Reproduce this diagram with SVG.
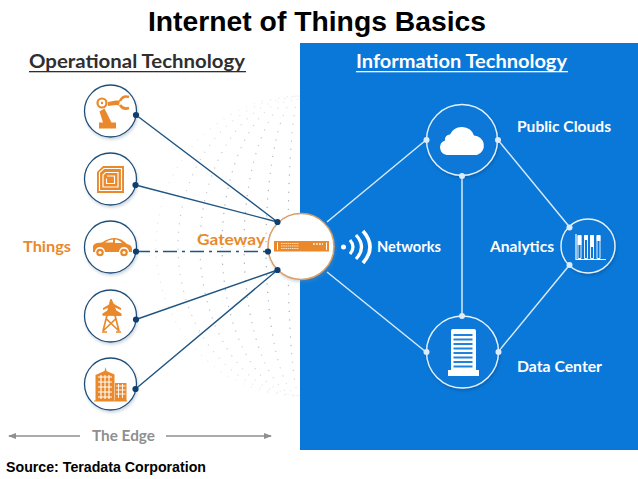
<svg xmlns="http://www.w3.org/2000/svg" width="638" height="479" viewBox="0 0 638 479">
<style>
.t{font-family:"Liberation Sans",Arial,sans-serif;font-weight:700;fill:#000}
.l{font-family:Lato,"Open Sans",sans-serif;font-weight:700;font-size:15px}
.o{fill:#e9892b}.w{fill:#fff}.g{fill:#8f8f8f}.d{fill:#2f2f2f}
.ring{fill:#fff;stroke:#1f4e79;stroke-width:1.3;filter:url(#sh)}
.wring{fill:#0a78d8;stroke:#e6f2fc;stroke-width:1.4;filter:url(#sh2)}
.nd{fill:#0f3f6f}.wd{fill:#dcecfa}
.ln{stroke:#1f5582;stroke-width:1.4;fill:none}
.wl{stroke:#d7e9f9;stroke-width:1.5;fill:none}
.globe{fill:none;stroke:#a4afb9;stroke-width:1.4;stroke-linecap:round;stroke-dasharray:0 8.5}
</style>
<defs>
<filter id="sh" x="-20%" y="-20%" width="140%" height="140%"><feDropShadow dx="1" dy="2" stdDeviation="1.5" flood-color="#6f8aa3" flood-opacity=".35"/></filter>
<filter id="sh2" x="-20%" y="-20%" width="140%" height="140%"><feDropShadow dx="1" dy="2" stdDeviation="1.5" flood-color="#04427d" flood-opacity=".4"/></filter>
<radialGradient id="fade" gradientUnits="userSpaceOnUse" cx="300" cy="246" r="160"><stop offset=".5" stop-color="#fff"/><stop offset=".8" stop-color="#fff" stop-opacity=".6"/><stop offset="1" stop-color="#fff" stop-opacity="0"/></radialGradient>
<mask id="gm"><rect x="130" y="80" width="170" height="330" fill="url(#fade)"/></mask>
<marker id="ah" viewBox="0 0 8 6" refX="7" refY="3" markerWidth="8" markerHeight="6" orient="auto-start-reverse" markerUnits="userSpaceOnUse"><path d="M0 0L8 3L0 6z" fill="#8f8f8f"/></marker>
</defs>
<rect width="638" height="479" fill="#fff"/>
<g id="globe" mask="url(#gm)">
<ellipse class="globe" cx="300" cy="246" rx="12" ry="150"/><ellipse class="globe" cx="300" cy="246" rx="34" ry="150"/><ellipse class="globe" cx="300" cy="246" rx="56" ry="150"/><ellipse class="globe" cx="300" cy="246" rx="78" ry="150"/><ellipse class="globe" cx="300" cy="246" rx="100" ry="150"/><ellipse class="globe" cx="300" cy="246" rx="122" ry="150"/><ellipse class="globe" cx="300" cy="246" rx="144" ry="150"/>
</g>
<rect id="it-panel" x="300" y="43" width="338" height="407" fill="#0a78d8"/>
<text class="t" x="317" y="31" font-size="28.300" text-anchor="middle">Internet of Things Basics</text>
<text class="t" x="6" y="472" font-size="14.200">Source: Teradata Corporation</text>
<g id="headings">
<text class="l d" x="29" y="68" textLength="216" lengthAdjust="spacingAndGlyphs" style="font-size:18px">Operational Technology</text>
<rect x="29" y="71" width="217" height="1.300" fill="#2f2f2f"/>
<text class="l w" x="356" y="68" textLength="211" lengthAdjust="spacingAndGlyphs" style="font-size:18px">Information Technology</text>
<rect x="356" y="71" width="212" height="1.300" fill="#fff"/>
<text class="l o" x="23" y="252" textLength="48" lengthAdjust="spacingAndGlyphs">Things</text>
<text class="l g" x="92" y="441" textLength="63" lengthAdjust="spacingAndGlyphs">The Edge</text>
</g>
<g id="connectors">
<path class="ln" d="M136 115L277.500 222M135.500 185L277.500 222M136 319.500L277.500 270M135.500 389L277.500 270"/>
<path class="ln" d="M136 251.500H268" stroke-width="2" stroke-dasharray="14 5 3 5"/>
<path class="wl" d="M327 222L426 140M327 272L426 352M498 140L569.500 227M498 352L569.500 265M462 176V316"/>
<path d="M80 436H9" stroke="#8f8f8f" stroke-width="1.300" marker-end="url(#ah)"/>
<path d="M166 436H271" stroke="#8f8f8f" stroke-width="1.300" marker-end="url(#ah)"/>
</g>
<g id="node-robot">
<circle class="ring" cx="110.500" cy="111" r="26"/>
<path class="o" d="M99 122.500h17v6H99zM103 122.500l-3.500-11 5-3 7 14z"/>
<circle cx="102" cy="103" r="4.500" fill="none" stroke="#e9892b" stroke-width="2.200"/><circle class="o" cx="102" cy="103" r="1.200"/>
<path class="o" d="M108 102l8-1.500 4 0-1 5-3-.5-8 1z"/>
<path d="M120 101q3-6 9-4 M120 105q3 5 9 3" fill="none" stroke="#e9892b" stroke-width="2.600"/>
</g>
<g id="node-chip">
<circle class="ring" cx="110.500" cy="179" r="26"/>
<path class="o" d="M103 166h21v27H97v-21z"/>
<path d="M104 168.500h17.500v22h-22v-18zM105.500 172.500h12.500v14.500h-15v-12zM107 176h7.500v7.500h-8v-5" fill="none" stroke="#fff" stroke-width="1.200"/>
</g>
<g id="node-car">
<circle class="ring" cx="110.500" cy="247" r="26"/>
<path class="o" d="M93 247q0-3 4-4l5-.5q6-4.500 13-4.500 6 0 12 6 5 1 5 5v3h-3a5 5 0 0 0-10 0h-14a5 5 0 0 0-10 0h-2z"/>
<path class="w" d="M105 242.500q4-3 8-3v3zM115 239.500q4 0 7 3.500h-7z"/>
<circle class="o" cx="100" cy="252.500" r="3.800"/><circle class="w" cx="100" cy="252.500" r="1.500"/>
<circle class="o" cx="124" cy="252.500" r="3.800"/><circle class="w" cx="124" cy="252.500" r="1.500"/>
</g>
<g id="node-pylon">
<circle class="ring" cx="110.500" cy="316" r="26"/>
<path d="M111 299.500L103 331M111 299.500L119 331M103 331L115.500 319M119 331L106.500 319M102 332h5M116 332h5" fill="none" stroke="#e9892b" stroke-width="1.700"/>
<path class="o" d="M111 299l3 5 7 4v2l-6-2.500 1.500 3 5 3v2.500l-19-.2v-2.300l5-3 1.500-3-6 2.500v-2l7-4z"/>
</g>
<g id="node-building">
<circle class="ring" cx="110.500" cy="384" r="26"/>
<path class="o" d="M95.500 401v-26l9-4 1-4 1 4 8 3.500V401z"/>
<path d="M98 377h14M98 382h14M98 387h14M98 392h14M98 397h14M101 375v24M105 375v24M109 375v24" stroke="#fff" stroke-width="1.100"/>
<rect class="o" x="115" y="383" width="11.500" height="18"/>
<path d="M116 386h9.500M116 390h9.500M116 394h9.500M118.500 384v14M122.500 384v14" stroke="#fff" stroke-width=".9"/>
<path d="M94 401h33" stroke="#e9892b" stroke-width="1.200"/>
</g>
<g id="node-gateway">
<circle cx="301" cy="246.500" r="33" fill="#fff" stroke="#d9a066" stroke-width="1.500" filter="url(#sh)"/>
<rect class="o" x="274" y="241" width="55" height="10.500"/>
<rect class="w" x="277" y="242.500" width="1" height="7.500"/>
<path d="M281 243.500h18M281 246h18M281 248.500h18" stroke="#fbe3c9" stroke-width="1.200" stroke-dasharray="1.500 .7"/>
<path d="M313 244h10" stroke="#fff" stroke-width="1.500" stroke-dasharray="1.800 1.200"/>
<rect class="w" x="326" y="242.500" width="1" height="7.500"/>
<text class="l o" x="197" y="245" textLength="68" lengthAdjust="spacingAndGlyphs" style="font-size:16px">Gateway</text>
</g>
<g id="dots">
<circle class="nd" cx="136" cy="115" r="3.100"/><circle class="nd" cx="135.500" cy="185" r="3.100"/><circle class="nd" cx="136" cy="251.500" r="3.100"/><circle class="nd" cx="136" cy="319.500" r="3.100"/><circle class="nd" cx="135.500" cy="389" r="3.100"/>
<circle class="nd" cx="277.500" cy="222" r="3.100"/><circle class="nd" cx="268" cy="251.500" r="3.100"/><circle class="nd" cx="277.500" cy="270" r="3.100"/>
</g>
<g id="node-networks">
<circle class="w" cx="343.500" cy="247" r="2.500"/>
<path d="M350 240q6 7 0 14M356 235q11 12 0 24" fill="none" stroke="#fff" stroke-width="3.200"/>
<path d="M363 231q14 16 0 32" fill="none" stroke="#fff" stroke-width="3.600"/>
<text class="l w" x="377" y="252" textLength="64" lengthAdjust="spacingAndGlyphs">Networks</text>
</g>
<g id="node-cloud">
<circle class="wring" cx="462" cy="140" r="35.500"/>
<path class="w" d="M447 155a7.500 7.500 0 0 1-2-14.500 5 5 0 0 1 5-6 13 13 0 0 1 24 1 10 10 0 0 1 3 19.500z"/>
<circle class="wd" cx="426.500" cy="140" r="3"/><circle class="wd" cx="498" cy="140" r="3"/><circle class="wd" cx="462" cy="176" r="3"/>
<text class="l w" x="517" y="132" textLength="94" lengthAdjust="spacingAndGlyphs">Public Clouds</text>
</g>
<g id="node-analytics">
<circle class="wring" cx="588" cy="246" r="27"/>
<path d="M576 234v25.500h30" fill="none" stroke="#fff" stroke-width="1.200"/>
<path d="M578 236h3v22.500h-3zM584.500 236h3v22.500h-3zM590.500 236h3v22.500h-3zM597 236h3v22.500h-3z" stroke="#fff" stroke-width=".9" fill="none"/>
<path d="M579.500 235v10M586 235v5M592 235v12M598.500 235v6" stroke="#fff" stroke-width="3.800" fill="none"/>
<circle class="wd" cx="569.500" cy="227.500" r="3"/><circle class="wd" cx="569.500" cy="265" r="3"/>
<text class="l w" x="490" y="252" textLength="64" lengthAdjust="spacingAndGlyphs">Analytics</text>
</g>
<g id="node-datacenter">
<circle class="wring" cx="462.500" cy="352" r="36"/>
<path class="w" d="M451 331q0-2 2-2h21q2 0 2 2v39h3v6h-31v-6h3z"/>
<path d="M453.500 335h19M453.500 339.500h19M453.500 344h19M453.500 348.500h19M453.500 353h19M453.500 357.500h19M453.500 362h19M453.500 366.500h19" stroke="#1f83dc" stroke-width="2"/>
<circle class="wd" cx="426.500" cy="352" r="3"/><circle class="wd" cx="498.500" cy="352" r="3"/><circle class="wd" cx="462" cy="316" r="3"/>
<text class="l w" x="517" y="372" textLength="85" lengthAdjust="spacingAndGlyphs">Data Center</text>
</g>
</svg>
